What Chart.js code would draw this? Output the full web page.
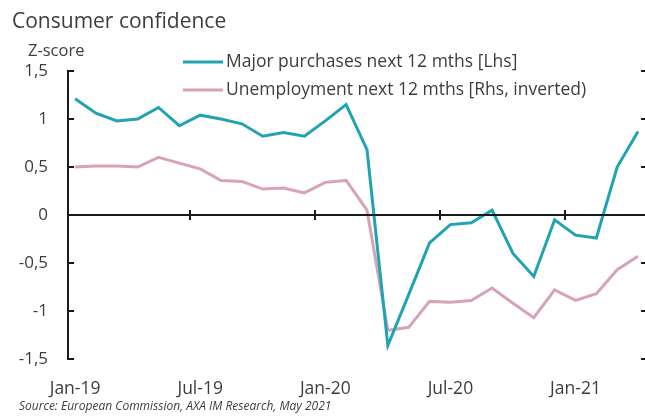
<!doctype html>
<html>
<head>
<meta charset="utf-8">
<script src="https://cdn.jsdelivr.net/npm/chart.js@4/dist/chart.umd.min.js"></script>
<style>
  html, body { margin: 0; padding: 0; background: #fff; }
  #wrap { width: 645px; height: 416px; position: relative; }
</style>
</head>
<body>
<div id="wrap"><canvas id="cc"></canvas></div>
<script>
// months Jan-19 .. Apr-21
const months = ['Jan-19','Feb-19','Mar-19','Apr-19','May-19','Jun-19','Jul-19','Aug-19','Sep-19','Oct-19','Nov-19','Dec-19',
                'Jan-20','Feb-20','Mar-20','Apr-20','May-20','Jun-20','Jul-20','Aug-20','Sep-20','Oct-20','Nov-20','Dec-20',
                'Jan-21','Feb-21','Mar-21','Apr-21'];
const tickLabels = ['Jan-19','Jul-19','Jan-20','Jul-20','Jan-21'];
const yTicks = [-1.5, -1, -0.5, 0, 0.5, 1, 1.5];

const majorPurchases = [1.21, 1.06, 0.98, 1.0, 1.12, 0.93, 1.04, 1.0, 0.95, 0.82, 0.86, 0.82,
                        0.98, 1.15, 0.68, -1.36, -0.83, -0.29, -0.1, -0.08, 0.05, -0.4, -0.64, -0.05,
                        -0.21, -0.24, 0.5, 0.87];
const unemployment = [0.5, 0.51, 0.51, 0.5, 0.6, 0.54, 0.48, 0.36, 0.35, 0.27, 0.28, 0.23,
                      0.34, 0.36, 0.05, -1.2, -1.17, -0.9, -0.91, -0.89, -0.76, -0.92, -1.07, -0.78,
                      -0.89, -0.82, -0.57, -0.43];

const seriesNames = ['Major purchases next 12 mths [Lhs]', 'Unemployment next 12 mths [Rhs, inverted)'];
const seriesColors = ['#22a3b3', '#d6a3b7'];

const FONT = '"Open Sans", sans-serif';
const TXT = '#3d3d3d';

const decor = {
  id: 'decor',
  afterDatasetsDraw(chart) {
    const ctx = chart.ctx;
    const xs = chart.scales.x, ys = chart.scales.y;
    const a = chart.chartArea;
    ctx.save();
    // zero line with crossing ticks
    const y0 = ys.getPixelForValue(0);
    ctx.strokeStyle = '#1a1a1a';
    ctx.lineWidth = 2;
    ctx.beginPath();
    ctx.moveTo(a.left, y0); ctx.lineTo(a.right + 3, y0);
    ctx.stroke();
    [5.5, 11.5, 17.5, 23.5].forEach(v => {
      const px = Math.round(xs.getPixelForValue(v));
      ctx.beginPath(); ctx.moveTo(px, y0 - 5); ctx.lineTo(px, y0 + 5); ctx.stroke();
    });
    // inner ticks on left axis, small ticks on right edge
    yTicks.forEach(v => {
      const py = ys.getPixelForValue(v);
      ctx.beginPath(); ctx.moveTo(a.left, py); ctx.lineTo(a.left + 6, py); ctx.stroke();
      ctx.beginPath(); ctx.moveTo(a.right - 1, py); ctx.lineTo(a.right + 3, py); ctx.stroke();
    });
    // title, unit, source
    ctx.fillStyle = TXT;
    ctx.textBaseline = 'middle';
    ctx.textAlign = 'left';
    ctx.font = '21px ' + FONT;
    ctx.fillText('Consumer confidence', 12, 22);
    ctx.font = '16.5px ' + FONT;
    ctx.fillText('Z-score', 28, 51);
    ctx.font = 'italic 12px ' + FONT;
    ctx.fillText('Source: European Commission, AXA IM Research, May 2021', 19, 407);
    // legend
    ctx.font = '17.5px ' + FONT;
    [62, 90].forEach((ly, i) => {
      ctx.strokeStyle = seriesColors[i];
      ctx.lineWidth = 3;
      ctx.beginPath(); ctx.moveTo(183, ly); ctx.lineTo(223, ly); ctx.stroke();
      ctx.fillStyle = TXT;
      ctx.fillText(seriesNames[i], 226, ly);
    });
    ctx.restore();
  }
};

new Chart(document.getElementById('cc'), {
  type: 'line',
  data: {
    datasets: [
      { label: seriesNames[0], data: majorPurchases.map((v, i) => ({ x: i, y: v })),
        borderColor: seriesColors[0], borderWidth: 3, pointRadius: 0, tension: 0 },
      { label: seriesNames[1], data: unemployment.map((v, i) => ({ x: i, y: v })),
        borderColor: seriesColors[1], borderWidth: 3, pointRadius: 0, tension: 0 }
    ]
  },
  options: {
    responsive: true,
    maintainAspectRatio: false,
    animation: false,
    layout: { padding: { top: 71, right: 3, bottom: 0, left: 0 } },
    plugins: { legend: { display: false }, tooltip: { enabled: false } },
    scales: {
      x: {
        type: 'linear', min: -0.34, max: 27.19,
        afterBuildTicks: s => { s.ticks = tickLabels.map(t => ({ value: months.indexOf(t) })); },
        afterFit: s => { s.height = 57; },
        grid: { display: false, drawTicks: false },
        border: { display: false },
        ticks: { padding: 20, color: TXT, font: { family: FONT, size: 17.5 },
                 callback: v => months[v], maxRotation: 0, autoSkip: false }
      },
      y: {
        min: -1.5, max: 1.5,
        afterBuildTicks: s => { s.ticks = yTicks.map(v => ({ value: v })); },
        afterFit: s => { s.width = 68; },
        grid: { display: false, drawTicks: false },
        border: { display: true, color: '#1a1a1a', width: 2 },
        ticks: { padding: 20, color: TXT, font: { family: FONT, size: 17 },
                 callback: v => String(v).replace('.', ',') }
      }
    }
  },
  plugins: [decor]
});
</script>
</body>
</html>
